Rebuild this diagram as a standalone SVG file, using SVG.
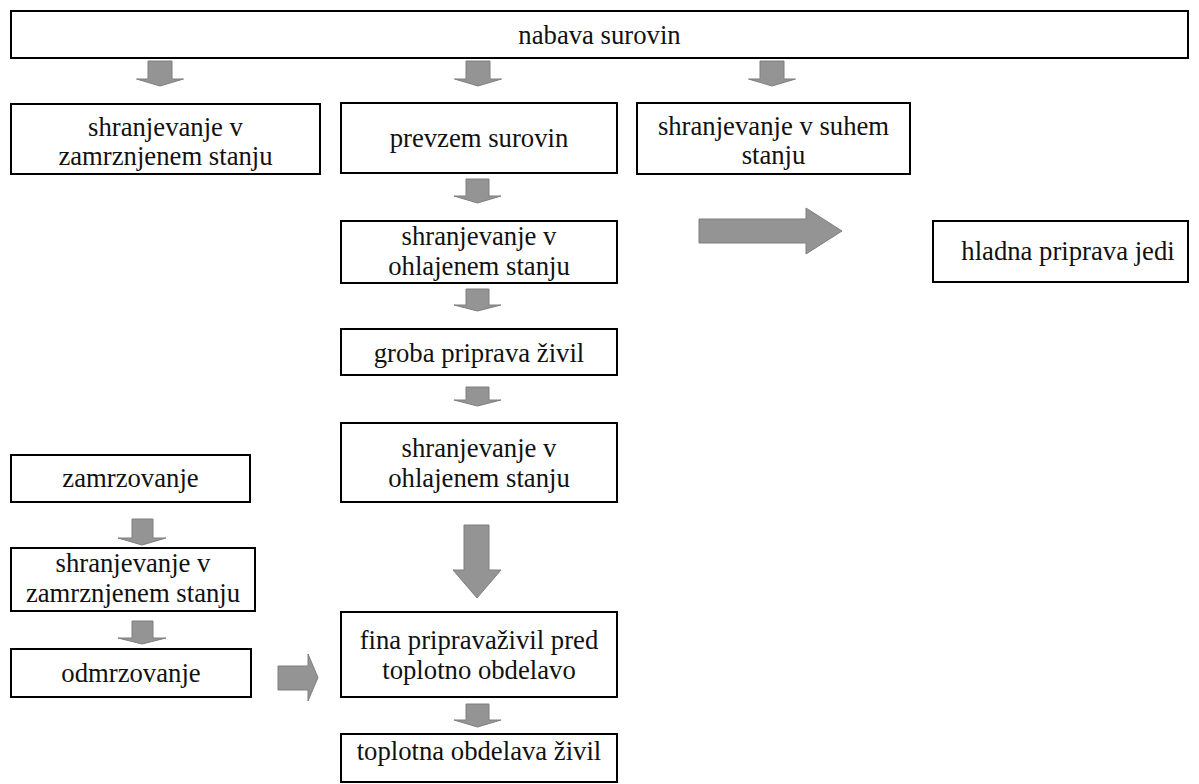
<svg xmlns="http://www.w3.org/2000/svg" width="1199" height="784" viewBox="0 0 1199 784">
<style>
.box{fill:#fff;stroke:#000;stroke-width:2}
.t{font-family:"Liberation Serif","Times New Roman",serif;font-size:26.7px;fill:#111;text-anchor:middle}
.ar{fill:#949494;stroke:#7f7f7f;stroke-width:1}
</style>
<rect width="1199" height="784" fill="#fff"/>
<g id="n-nabava"><rect class="box" x="11" y="11" width="1177" height="47"/><text class="t" x="599.5" y="44">nabava surovin</text></g>
<g id="n-zamrz1"><rect class="box" x="11" y="104" width="309" height="70"/><text class="t" x="165.5" y="136">shranjevanje v</text><text class="t" x="165.5" y="165">zamrznjenem stanju</text></g>
<g id="n-prevzem"><rect class="box" x="341" y="103" width="276" height="70"/><text class="t" x="479" y="147">prevzem surovin</text></g>
<g id="n-suhem"><rect class="box" x="637" y="103" width="273" height="71"/><text class="t" x="773.5" y="135">shranjevanje v suhem</text><text class="t" x="773.5" y="164">stanju</text></g>
<g id="n-ohl1"><rect class="box" x="341" y="221" width="276" height="62"/><text class="t" x="479" y="245">shranjevanje v</text><text class="t" x="479" y="275">ohlajenem stanju</text></g>
<g id="n-hladna"><rect class="box" x="933" y="221" width="255" height="61"/><text class="t" x="1068" y="260">hladna priprava jedi</text></g>
<g id="n-groba"><rect class="box" x="341" y="329" width="276" height="46"/><text class="t" x="479" y="362">groba priprava živil</text></g>
<g id="n-ohl2"><rect class="box" x="341" y="423" width="276" height="79"/><text class="t" x="479" y="457">shranjevanje v</text><text class="t" x="479" y="487">ohlajenem stanju</text></g>
<g id="n-zamrzovanje"><rect class="box" x="11" y="455" width="239" height="47"/><text class="t" x="130.5" y="487">zamrzovanje</text></g>
<g id="n-zamrz2"><rect class="box" x="11" y="548" width="244" height="63"/><text class="t" x="133" y="572">shranjevanje v</text><text class="t" x="133" y="602">zamrznjenem stanju</text></g>
<g id="n-odmrz"><rect class="box" x="11" y="649" width="240" height="48"/><text class="t" x="131" y="682">odmrzovanje</text></g>
<g id="n-fina"><rect class="box" x="341" y="612" width="276" height="85"/><text class="t" x="479" y="649">fina pripravaživil pred</text><text class="t" x="479" y="679">toplotno obdelavo</text></g>
<g id="n-toplotna"><rect class="box" x="341" y="734" width="276" height="48"/><text class="t" x="479" y="760">toplotna obdelava živil</text></g>
<g id="connectors">
<polygon class="ar" points="148,61 172,61 172,79 183.5,79 160,86 136.5,79 148,79"/>
<polygon class="ar" points="466,61 490,61 490,79 501.5,79 478,86 454.5,79 466,79"/>
<polygon class="ar" points="760,61 784,61 784,79 795.5,79 772,86 748.5,79 760,79"/>
<polygon class="ar" points="466,179 489,179 489,196 501,196 477.5,203 454,196 466,196"/>
<polygon class="ar" points="466,289 489,289 489,305 501,305 477.5,311 454,305 466,305"/>
<polygon class="ar" points="466,387 489,387 489,400 501,400 477.5,406 454,400 466,400"/>
<polygon class="ar" points="464,525 489,525 489,570 501,570 477,598 453,570 464,570"/>
<polygon class="ar" points="466,704 489,704 489,720 501,720 477.5,727 454,720 466,720"/>
<polygon class="ar" points="132,519 153,519 153,538 166,538 142,545 118,538 132,538"/>
<polygon class="ar" points="132,621 153,621 153,638 166,638 142,644 118,638 132,638"/>
<polygon class="ar" points="278,666 308,666 308,654 318,677.5 308,701 308,690 278,690"/>
<polygon class="ar" points="699,219 806,219 806,208 842,231 806,254 806,243 699,243"/>
</g>
</svg>
